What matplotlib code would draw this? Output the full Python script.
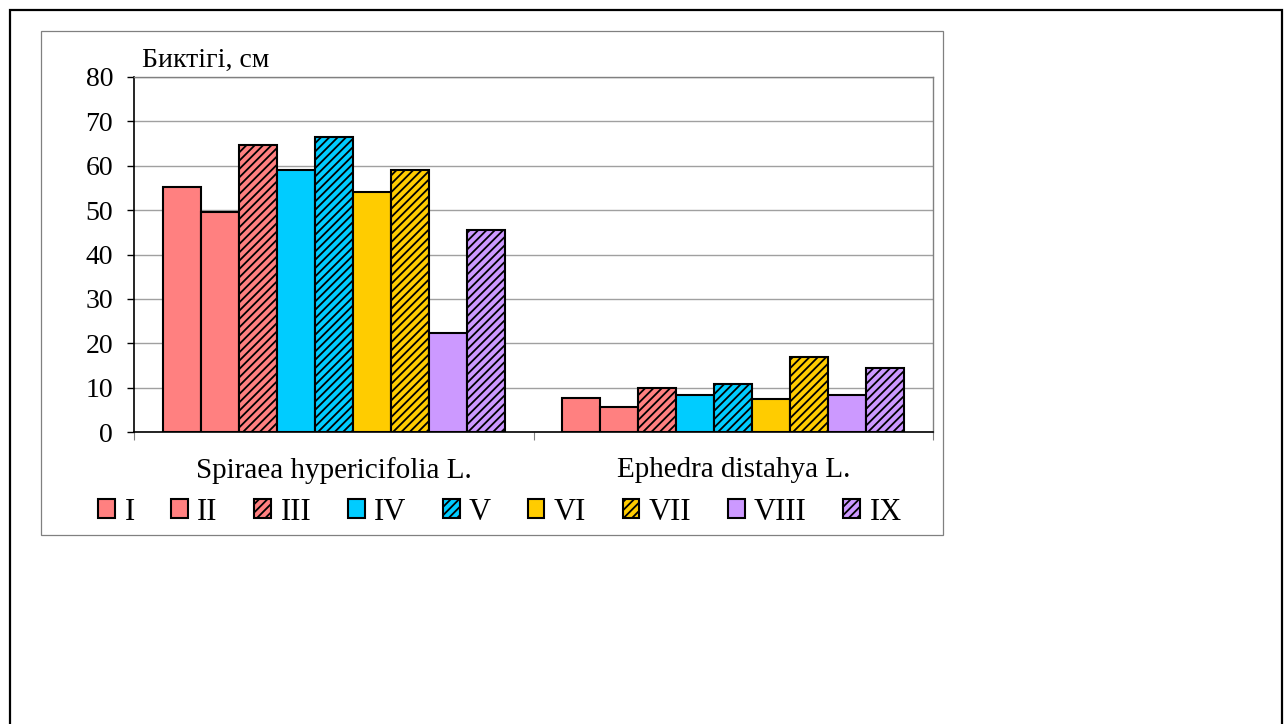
import matplotlib.pyplot as plt
import numpy as np
from matplotlib.patches import Rectangle

# DATA
species = ["Spiraea hypericifolia L.", "Ephedra distahya L."]
series = ["I", "II", "III", "IV", "V", "VI", "VII", "VIII", "IX"]
values = {
    "I":    [55.2, 7.7],
    "II":   [49.6, 5.6],
    "III":  [64.7, 9.9],
    "IV":   [59.0, 8.4],
    "V":    [66.5, 10.8],
    "VI":   [54.1, 7.5],
    "VII":  [59.0, 16.9],
    "VIII": [22.4, 8.3],
    "IX":   [45.5, 14.5],
}
colors = ["#FF8080", "#FF8080", "#FF8080", "#00CCFF", "#00CCFF",
          "#FFCC00", "#FFCC00", "#CC99FF", "#CC99FF"]
hatches = [None, None, "////", None, "////", None, "////", None, "////"]
y_label = "Биктігі, см"

plt.rcParams['font.family'] = ['Liberation Serif', 'DejaVu Serif']
plt.rcParams['hatch.linewidth'] = 1.3

W, H = 1285, 724
fig = plt.figure(figsize=(W / 100, H / 100), dpi=100)

# outer frame and chart frame
fig.patches.append(Rectangle((10 / W, -0.1), (1282 - 10) / W, 1.1 - 10 / H,
                             transform=fig.transFigure, fill=False,
                             edgecolor="black", linewidth=1.6))
fig.patches.append(Rectangle((41 / W, 1 - 535 / H), (943 - 41) / W, (535 - 31) / H,
                             transform=fig.transFigure, fill=False,
                             edgecolor="#808080", linewidth=0.9))

ax = fig.add_axes([134 / W, 1 - 432 / H, (933 - 134) / W, (432 - 77) / H])

n = len(series)
x = np.arange(len(species))
w = 1.0 / (n + 1.5)
for i, s in enumerate(series):
    off = (i - (n - 1) / 2) * w
    ax.bar(x + off, values[s], width=w, color=colors[i], edgecolor="black",
           linewidth=1.5, hatch=hatches[i], label=s, zorder=3)

ax.set_xlim(-0.5, 1.5)
ax.set_ylim(0, 80)
ax.set_yticks(np.arange(0, 81, 10))
ax.yaxis.grid(True, color="#a0a0a0", linewidth=1, zorder=0)
ax.set_xticks([-0.5, 0.5, 1.5])
ax.set_xticklabels([])
ax.set_xticks(x, minor=True)
ax.set_xticklabels(species, minor=True, fontsize=21)
ax.tick_params(axis="x", which="minor", length=0, pad=18)
ax.tick_params(axis="x", which="major", length=6, color="#808080", direction="out")
ax.tick_params(axis="y", length=5, width=1, labelsize=20, pad=10, direction="out")

for side in ["top", "right"]:
    ax.spines[side].set_color("#808080")
    ax.spines[side].set_linewidth(1)
ax.spines["left"].set_linewidth(1.2)
ax.spines["bottom"].set_linewidth(1.2)

fig.text(142 / W, 1 - 60 / H, y_label, fontsize=20, va="center", ha="left")

fig.legend(loc="center", bbox_to_anchor=(500 / W, 1 - 512 / H), ncol=9,
           frameon=False, fontsize=22, handlelength=0.55, handleheight=0.55,
           handletextpad=0.3, columnspacing=1.2, borderaxespad=0)

fig.savefig("out.png", dpi=100)
